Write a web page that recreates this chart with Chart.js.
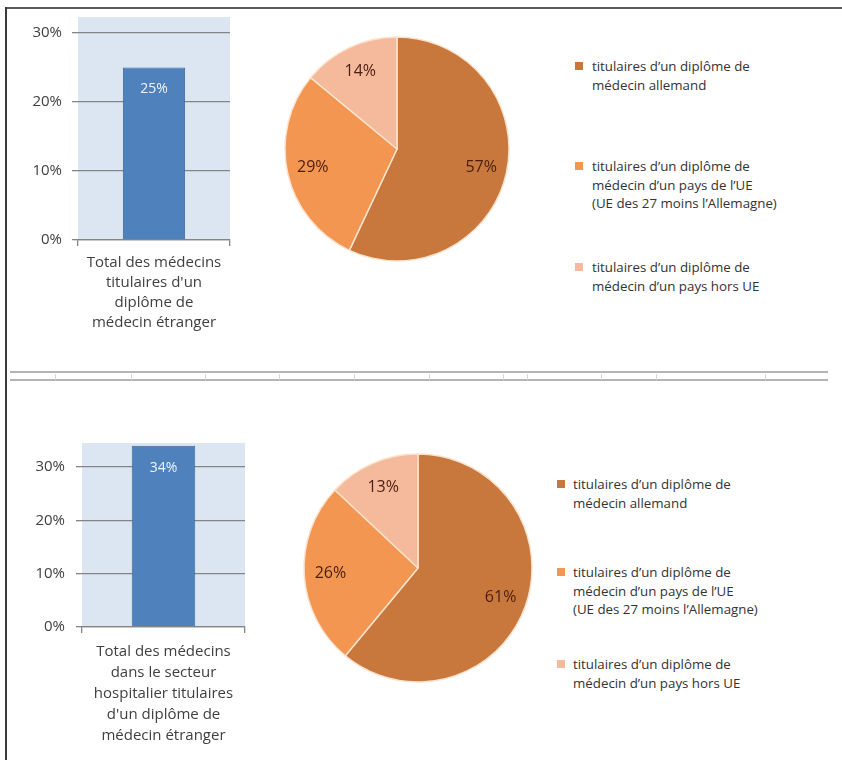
<!DOCTYPE html>
<html>
<head>
<meta charset="utf-8">
<script src="https://cdn.jsdelivr.net/npm/chart.js@4"></script>
<style>
  html, body { margin: 0; padding: 0; background: #ffffff; }
  body { width: 842px; height: 760px; position: relative; overflow: hidden; font-family: "Open Sans", sans-serif; }
  canvas { position: absolute; }
  .frame-top { position: absolute; left: 5px; top: 7px; width: 837px; height: 2px; background: #5a5a5a; }
  .frame-left { position: absolute; left: 5px; top: 7px; width: 2px; height: 753px; background: #3a3a3a; }
  .sep { position: absolute; left: 10px; width: 818px; height: 2px; background: #b4b4b4; }
  .sepTick { position: absolute; top: 374px; width: 1px; height: 6px; background: #d8d8d8; }
  .leg { position: absolute; font-family: "Open Sans", sans-serif; font-size: 13.3px; line-height: 18.5px; color: #333333; white-space: nowrap; }
  .sw { position: absolute; width: 8px; height: 8px; }
</style>
</head>
<body>
<div class="frame-top"></div>
<div class="frame-left"></div>
<div class="sep" style="top:371px"></div>
<div class="sep" style="top:379px"></div>
<div id="sepTicks"></div>

<canvas id="barTop" width="240" height="340" style="left:20px;top:10px"></canvas>
<canvas id="pieTop" width="250" height="250" style="left:272px;top:24px"></canvas>
<canvas id="barBottom" width="250" height="335" style="left:20px;top:420px"></canvas>
<canvas id="pieBottom" width="250" height="250" style="left:293px;top:443px"></canvas>
<div id="legends"></div>

<script>
// ---------------- DATA ----------------
const yTicks = [0, 10, 20, 30];

const barCategoryTop = [["Total des médecins", "titulaires d'un", "diplôme de", "médecin étranger"]];
const barValuesTop = [25];

const barCategoryBottom = [["Total des médecins", "dans le secteur", "hospitalier titulaires", "d'un diplôme de", "médecin étranger"]];
const barValuesBottom = [34];

const pieCategories = [
  ["titulaires d’un diplôme de", "médecin allemand"],
  ["titulaires d’un diplôme de", "médecin d’un pays de l’UE", "(UE des 27 moins l’Allemagne)"],
  ["titulaires d’un diplôme de", "médecin d’un pays hors UE"]
];
const pieValuesTop = [57, 29, 14];
const pieValuesBottom = [61, 26, 13];

// ---------------- STYLE ----------------
const pieColors = ["#c8783c", "#f29651", "#f5b99b"];
const barColor = "#4f81bd";
const plotBg = "#dce6f2";
const gridColor = "#858585";
const textColor = "#404040";

Chart.defaults.font.family = "'Open Sans', Lato, sans-serif";
Chart.defaults.color = textColor;

const plotBgPlugin = {
  id: 'plotBg',
  beforeDraw(chart) {
    const a = chart.chartArea, ctx = chart.ctx;
    ctx.save();
    ctx.fillStyle = plotBg;
    ctx.fillRect(a.left, a.top, a.right - a.left, a.bottom - a.top);
    ctx.restore();
  }
};

const barLabelPlugin = {
  id: 'barLabel',
  afterDatasetsDraw(chart) {
    const ctx = chart.ctx;
    const meta = chart.getDatasetMeta(0);
    const vals = chart.data.datasets[0].data;
    ctx.save();
    ctx.fillStyle = "#eef3fb";
    ctx.font = "14px 'Open Sans', sans-serif";
    ctx.textAlign = "center";
    ctx.textBaseline = "middle";
    meta.data.forEach((el, i) => {
      ctx.fillText(vals[i] + "%", el.x, el.y + 22);
    });
    ctx.restore();
  }
};

const pieLabelPlugin = {
  id: 'pieLabel',
  afterDatasetsDraw(chart) {
    const ctx = chart.ctx;
    const meta = chart.getDatasetMeta(0);
    const vals = chart.data.datasets[0].data;
    ctx.save();
    ctx.fillStyle = "#4a1e10";
    ctx.font = "16px 'Open Sans', sans-serif";
    ctx.textAlign = "center";
    ctx.textBaseline = "middle";
    meta.data.forEach((el, i) => {
      const mid = (el.startAngle + el.endAngle) / 2;
      const r = el.outerRadius * 0.77;
      ctx.fillText(vals[i] + "%", el.x + Math.cos(mid) * r, el.y + Math.sin(mid) * r);
    });
    ctx.restore();
  }
};

function makeBar(id, labels, values, cfg) {
  new Chart(document.getElementById(id), {
    type: 'bar',
    data: {
      labels: labels,
      datasets: [{
        data: values,
        backgroundColor: barColor,
        borderColor: "#3c6797",
        borderWidth: 1,
        barPercentage: cfg.barPct,
        categoryPercentage: 1
      }]
    },
    options: {
      responsive: false,
      animation: false,
      events: [],
      layout: { padding: { top: cfg.padTop, right: cfg.padRight, left: 0, bottom: 0 } },
      plugins: { legend: { display: false }, tooltip: { enabled: false } },
      scales: {
        y: {
          min: 0,
          max: cfg.yMax,
          afterBuildTicks: s => { s.ticks = yTicks.map(v => ({ value: v })); },
          afterFit: s => { s.width = cfg.yWidth; s.paddingTop = 0; s.paddingBottom = 0; },
          border: { display: false },
          grid: { color: gridColor, lineWidth: 1.3, drawTicks: true, tickLength: 6 },
          ticks: { padding: cfg.yPad, font: { size: 15 }, color: textColor, callback: v => v + "%" }
        },
        x: {
          offset: true,
          afterFit: s => { s.height = cfg.xHeight; s.paddingLeft = 0; s.paddingRight = 0; },
          border: { display: true, color: gridColor, width: 1.3 },
          grid: { offset: true, drawOnChartArea: false, drawTicks: true, tickLength: 6, color: gridColor, lineWidth: 1.3 },
          ticks: { padding: cfg.xPad, maxRotation: 0, autoSkip: false, color: textColor, font: { size: 15, lineHeight: cfg.lineH } }
        }
      }
    },
    plugins: [plotBgPlugin, barLabelPlugin]
  });
}

function makePie(id, values, radius) {
  new Chart(document.getElementById(id), {
    type: 'pie',
    data: {
      labels: pieCategories.map(l => l.join(" ")),
      datasets: [{
        data: values,
        backgroundColor: pieColors,
        borderColor: "#fbe2cc",
        borderWidth: 1.5,
        radius: radius
      }]
    },
    options: {
      responsive: false,
      animation: false,
      events: [],
      layout: { padding: 0 },
      plugins: { legend: { display: false }, tooltip: { enabled: false } }
    },
    plugins: [pieLabelPlugin]
  });
}

makeBar('barTop', barCategoryTop, barValuesTop,
  { barPct: 0.41, padTop: 7, padRight: 30, yWidth: 58, xHeight: 110, yPad: 10, xPad: 7, lineH: 20 / 15, yMax: 32.3 });
makeBar('barBottom', barCategoryBottom, barValuesBottom,
  { barPct: 0.39, padTop: 23, padRight: 25, yWidth: 62, xHeight: 128, yPad: 11, xPad: 8.5, lineH: 21 / 15, yMax: 34.5 });

makePie('pieTop', pieValuesTop, 112);
makePie('pieBottom', pieValuesBottom, 114);

// ---------------- HTML legends ----------------
const legendLayouts = [
  { swX: 575, textX: 592, tops: [57, 157, 258] },
  { swX: 557, textX: 573, tops: [475, 563, 655] }
];
const legRoot = document.getElementById('legends');
legendLayouts.forEach(layout => {
  pieCategories.forEach((lines, i) => {
    const sw = document.createElement('div');
    sw.className = 'sw';
    sw.style.left = layout.swX + 'px';
    sw.style.top = (layout.tops[i] + 5) + 'px';
    sw.style.background = pieColors[i];
    legRoot.appendChild(sw);
    const t = document.createElement('div');
    t.className = 'leg';
    t.style.left = layout.textX + 'px';
    t.style.top = layout.tops[i] + 'px';
    t.innerHTML = lines.join('<br>');
    legRoot.appendChild(t);
  });
});

// faint column ticks in the separator band
const tickXs = [55, 131, 205, 279, 354, 429, 503, 527, 601, 656, 765];
const tickRoot = document.getElementById('sepTicks');
tickXs.forEach(x => {
  const d = document.createElement('div');
  d.className = 'sepTick';
  d.style.left = x + 'px';
  tickRoot.appendChild(d);
});
</script>
</body>
</html>
